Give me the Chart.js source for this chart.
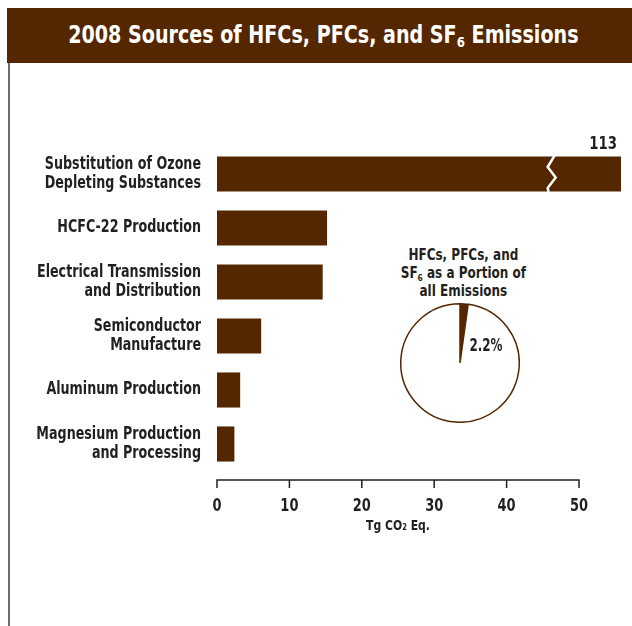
<!DOCTYPE html>
<html>
<head>
<meta charset="utf-8">
<script src="https://cdn.jsdelivr.net/npm/chart.js@4/dist/chart.umd.min.js"></script>
<style>
  body { margin: 0; width: 632px; height: 626px; position: relative; overflow: hidden; background: #fff;
         font-family: 'Liberation Sans Narrow', 'DejaVu Sans Condensed', sans-serif; font-weight: bold; color: #231f20; }
  #banner { position: absolute; left: 7px; top: 8px; width: 625px; height: 55px; background: #552700;
            color: #fff; font-size: 24px; line-height: 55px; text-align: center; }
  #banner span { display: inline-block; transform: scaleX(0.885); margin-left: 7px; }
  #rule { position: absolute; left: 8px; top: 63px; width: 2px; height: 563px; background: #6b6b6b; }
  #pieTitle { position: absolute; left: 363px; top: 246px; width: 200px; text-align: center; font-size: 15px; line-height: 18px; }
  #pieTitle span { display: inline-block; transform: scaleX(0.89); }
  sub { font-size: 0.62em; line-height: 0; vertical-align: -0.3em; }
  #main { position: absolute; left: 0; top: 0; }
  #pie { position: absolute; left: 400px; top: 303px; }
</style>
</head>
<body>
<div id="banner"><span>2008 Sources of HFCs, PFCs, and SF<sub>6</sub> Emissions</span></div>
<div id="rule"></div>
<div id="pieTitle"><span>HFCs, PFCs, and<br>SF<sub>6</sub> as a Portion of<br>all Emissions</span></div>
<canvas id="main" width="632" height="626"></canvas>
<canvas id="pie" width="120" height="120"></canvas>
<script>
const sources = [
  ['Substitution of Ozone', 'Depleting Substances'],
  'HCFC-22 Production',
  ['Electrical Transmission', 'and Distribution'],
  ['Semiconductor', 'Manufacture'],
  'Aluminum Production',
  ['Magnesium Production', 'and Processing']
]
const emissions = [113, 15.2, 14.6, 6.1, 3.2, 2.4]
const xTicks = [0, 10, 20, 30, 40, 50]
const xTitle = 'Tg CO₂ Eq.'
const axisMax = 55.8
const breakAt = 46.5
const pieValues = [2.2, 97.8]

const brown = '#552700'
const ink = '#231f20'
const fontFamily = "'Liberation Sans Narrow', 'DejaVu Sans Condensed', sans-serif"

// the reference face is narrower than anything installed, so squeeze it
const squeeze = (c, text, x, y, sx) => {
  c.save()
  c.translate(x, y)
  c.scale(sx, 1)
  c.fillText(text, 0, 0)
  c.restore()
}

// labels, axis line (only 0-50), the break on the long bar and its value
const extras = {
  id: 'extras',
  afterDatasetsDraw(chart) {
    const c = chart.ctx
    const x = chart.scales.x
    const y = chart.scales.y
    const area = chart.chartArea
    const axisY = area.bottom + 9
    c.save()
    c.fillStyle = ink

    // category labels
    c.font = 'bold 17px ' + fontFamily
    c.textAlign = 'right'
    c.textBaseline = 'middle'
    sources.forEach((label, i) => {
      const lines = Array.isArray(label) ? label : [label]
      const ty = y.getPixelForValue(i)
      lines.forEach((line, j) => {
        squeeze(c, line, area.left - 16, ty + (j - (lines.length - 1) / 2) * 19.5, 0.83)
      })
    })

    // value axis
    c.strokeStyle = ink
    c.lineWidth = 1.5
    c.beginPath()
    c.moveTo(x.getPixelForValue(xTicks[0]), axisY)
    c.lineTo(x.getPixelForValue(xTicks[xTicks.length - 1]), axisY)
    xTicks.forEach(v => {
      const px = x.getPixelForValue(v)
      c.moveTo(px, axisY - 0.75)
      c.lineTo(px, axisY + 8)
    })
    c.stroke()
    c.textAlign = 'center'
    x.ticks.forEach(t => squeeze(c, String(t.value), x.getPixelForValue(t.value), area.bottom + 35.5, 0.85))
    c.font = 'bold 14px ' + fontFamily
    const mid = (xTicks[0] + xTicks[xTicks.length - 1]) / 2
    squeeze(c, xTitle, x.getPixelForValue(mid), area.bottom + 55, 0.86)

    // break on the off-scale bar
    const bar = chart.getDatasetMeta(0).data[0]
    const top = bar.y - bar.height / 2
    const h = bar.height
    const bx = x.getPixelForValue(breakAt)
    c.strokeStyle = '#fff'
    c.lineWidth = 2.5
    c.lineJoin = 'miter'
    c.beginPath()
    c.moveTo(bx + 1, top - 1)
    c.lineTo(bx - 6, top + h * 0.3)
    c.lineTo(bx + 2, top + h * 0.6)
    c.lineTo(bx - 6, top + h * 0.9)
    c.lineTo(bx - 5, top + h + 1)
    c.stroke()

    c.font = 'bold 18px ' + fontFamily
    c.textAlign = 'right'
    c.textBaseline = 'alphabetic'
    squeeze(c, String(emissions[0]), area.right - 4, top - 7, 0.82)
    c.restore()
  }
}

new Chart(document.getElementById('main'), {
  type: 'bar',
  data: {
    labels: sources,
    datasets: [{
      data: emissions,
      backgroundColor: brown,
      borderWidth: 0,
      barPercentage: 0.65,
      categoryPercentage: 1
    }]
  },
  options: {
    indexAxis: 'y',
    responsive: false,
    animation: false,
    layout: { padding: { top: 147, right: 11, bottom: 92, left: 0 } },
    plugins: { legend: { display: false }, tooltip: { enabled: false } },
    scales: {
      x: {
        min: 0,
        max: axisMax,
        afterBuildTicks: s => { s.ticks = xTicks.map(v => ({ value: v })) },
        afterFit: s => { s.height = 63 },
        grid: { display: false, drawTicks: false },
        border: { display: false },
        ticks: { display: false }
      },
      y: {
        afterFit: s => { s.width = 217 },
        grid: { display: false, drawTicks: false },
        border: { display: false },
        ticks: { display: false }
      }
    }
  },
  plugins: [extras]
})

const pieLabel = {
  id: 'pieLabel',
  afterDatasetsDraw(chart) {
    const arc = chart.getDatasetMeta(0).data[0]
    const c = chart.ctx
    c.save()
    c.fillStyle = ink
    c.font = 'bold 17px ' + fontFamily
    c.textAlign = 'center'
    c.textBaseline = 'middle'
    squeeze(c, pieValues[0] + '%', arc.x + 26, arc.y - 16, 0.78)
    c.restore()
  }
}

new Chart(document.getElementById('pie'), {
  type: 'pie',
  data: {
    labels: ['HFCs, PFCs, and SF6', 'Other'],
    datasets: [{
      data: pieValues,
      backgroundColor: [brown, '#fff'],
      borderColor: brown,
      borderWidth: 1.5
    }]
  },
  options: {
    responsive: false,
    animation: false,
    layout: { padding: 0 },
    plugins: { legend: { display: false }, tooltip: { enabled: false } }
  },
  plugins: [pieLabel]
})
</script>
</body>
</html>
